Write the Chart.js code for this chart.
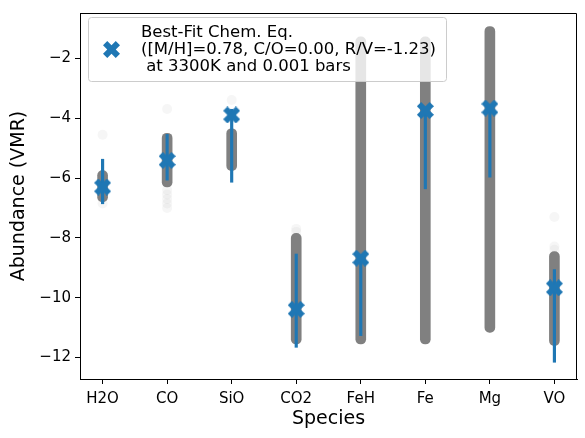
<!DOCTYPE html>
<html>
<head>
<meta charset="utf-8">
<script src="https://cdn.jsdelivr.net/npm/chart.js@4/dist/chart.umd.min.js"></script>
<style>
  body { margin: 0; background: #fff; }
  #wrap { width: 585px; height: 438px; }
</style>
</head>
<body>
<div id="wrap"><canvas id="abundChart"></canvas></div>
<script>
// species on the x axis
const species = ["H2O", "CO", "SiO", "CO2", "FeH", "Fe", "Mg", "VO"];

// extent of the dense grey sample cloud per species (log VMR)
const sampleLow  = [-6.80, -6.30, -5.75, -11.55, -11.55, -11.55, -11.16, -11.60];
const sampleHigh = [-5.75, -4.50, -4.35,  -7.85,  -1.28,  -1.28,  -0.93,  -8.46];

// sparse faint samples outside the dense part
const faintSpecies = [0, 0, 1, 1, 1, 1, 1, 1, 2, 3, 3, 7, 7, 7];
const faintValues  = [-4.55, -6.85, -3.69, -6.40, -6.55, -6.70, -6.85, -7.00, -3.39, -7.70, -7.80, -7.30, -8.29, -8.40];

// best-fit chemical equilibrium values and their error bars
const bestFit = [-6.30, -5.41, -3.89, -10.39, -8.68, -3.74, -3.66, -9.67];
const errLow  = [-6.86, -6.07, -6.14, -11.66, -11.27, -6.36, -5.97, -12.16];
const errHigh = [-5.37, -4.54, -3.70,  -8.54,  -8.60, -3.70, -3.60,  -9.06];

const yTicks = [-12, -10, -8, -6, -4, -2];

const legendLines = [
  "Best-Fit Chem. Eq.",
  "([M/H]=0.78, C/O=0.00, R/V=-1.23)",
  " at 3300K and 0.001 bars"
];

const blue = "#1f77b4";

// filled "X" marker like matplotlib's
function makeX(size, color) {
  const c = document.createElement("canvas");
  c.width = size; c.height = size;
  const g = c.getContext("2d");
  const pts = [[-1,-2],[0,-1],[1,-2],[2,-1],[1,0],[2,1],[1,2],[0,1],[-1,2],[-2,1],[-1,0],[-2,-1]];
  const k = size / 4, m = size / 2;
  g.fillStyle = color;
  g.beginPath();
  pts.forEach((p, i) => {
    const x = m + p[0] * k, y = m + p[1] * k;
    if (i === 0) g.moveTo(x, y); else g.lineTo(x, y);
  });
  g.closePath();
  g.fill();
  return c;
}
const xMarker = makeX(17, blue);

const fmtMinus = v => (v < 0 ? "\u2212" + Math.abs(v) : String(v));

// frame + legend drawn on top of the datasets
const frameAndLegend = {
  id: "frameAndLegend",
  afterDatasetsDraw(chart) {
    const ctx = chart.ctx;
    const a = chart.chartArea;
    ctx.save();
    ctx.strokeStyle = "#000";
    ctx.lineWidth = 1;
    ctx.beginPath();
    ctx.moveTo(Math.round(a.left) + 0.5, Math.round(a.top) + 0.5);
    ctx.lineTo(Math.round(a.right) - 0.5, Math.round(a.top) + 0.5);
    ctx.lineTo(Math.round(a.right) - 0.5, Math.round(a.bottom));
    ctx.stroke();

    // legend box
    const bx = 88, by = 17, bw = 358, bh = 64;
    ctx.beginPath();
    ctx.roundRect(bx + 0.5, by + 0.5, bw, bh, 3);
    ctx.fillStyle = "rgba(255,255,255,0.8)";
    ctx.fill();
    ctx.strokeStyle = "#cccccc";
    ctx.stroke();

    ctx.drawImage(xMarker, 111.5 - 8.5, 49.5 - 8.5);

    ctx.fillStyle = "#000";
    ctx.font = "16.5px 'DejaVu Sans'";
    ctx.textBaseline = "middle";
    ctx.textAlign = "left";
    legendLines.forEach((t, i) => ctx.fillText(t, 141, 33 + i * 17));
    ctx.restore();
  }
};

Chart.defaults.font.family = "'DejaVu Sans', sans-serif";
Chart.defaults.color = "#000";

new Chart(document.getElementById("abundChart"), {
  type: "bar",
  data: {
    datasets: [
      {
        type: "bar",
        data: species.map((s, i) => ({ x: i, y: [sampleLow[i], sampleHigh[i]] })),
        backgroundColor: "#808080",
        barThickness: 10,
        borderRadius: 5,
        borderSkipped: false,
        grouped: false,
        order: 4
      },
      {
        type: "scatter",
        data: faintSpecies.map((k, j) => ({ x: k, y: faintValues[j] })),
        pointRadius: 5,
        pointBackgroundColor: "rgba(128,128,128,0.07)",
        pointBorderWidth: 0,
        order: 3
      },
      {
        type: "bar",
        data: species.map((s, i) => ({ x: i, y: [errLow[i], errHigh[i]] })),
        backgroundColor: blue,
        barThickness: 2.5,
        borderSkipped: false,
        grouped: false,
        order: 2
      },
      {
        type: "scatter",
        data: species.map((s, i) => ({ x: i, y: bestFit[i] })),
        pointStyle: xMarker,
        order: 1
      }
    ]
  },
  options: {
    responsive: true,
    maintainAspectRatio: false,
    animation: false,
    layout: { padding: { top: 9, right: 8, left: 0, bottom: 0 } },
    plugins: {
      legend: { display: false },
      tooltip: { enabled: false }
    },
    scales: {
      x: {
        type: "linear",
        min: -0.35,
        max: 7.35,
        offset: false,
        afterBuildTicks: s => { s.ticks = species.map((_, i) => ({ value: i })); },
        afterFit: s => { s.height = 59; },
        ticks: {
          callback: v => species[v],
          font: { size: 15 },
          padding: 6,
          maxRotation: 0,
          autoSkip: false
        },
        grid: { drawOnChartArea: false, offset: false, tickLength: 5, color: "#000" },
        border: { color: "#000", width: 1 },
        title: { display: true, text: "Species", font: { size: 19 }, padding: { top: 0, bottom: 8 } }
      },
      y: {
        min: -12.72,
        max: -0.48,
        afterBuildTicks: s => { s.ticks = yTicks.map(v => ({ value: v })); },
        afterFit: s => { s.width = 80; },
        ticks: { callback: fmtMinus, font: { size: 15 }, padding: 4 },
        grid: { drawOnChartArea: false, tickLength: 5, color: "#000" },
        border: { color: "#000", width: 1 },
        title: { display: true, text: "Abundance (VMR)", font: { size: 19 }, padding: { top: 8, bottom: 0 } }
      }
    }
  },
  plugins: [frameAndLegend]
});
</script>
</body>
</html>
